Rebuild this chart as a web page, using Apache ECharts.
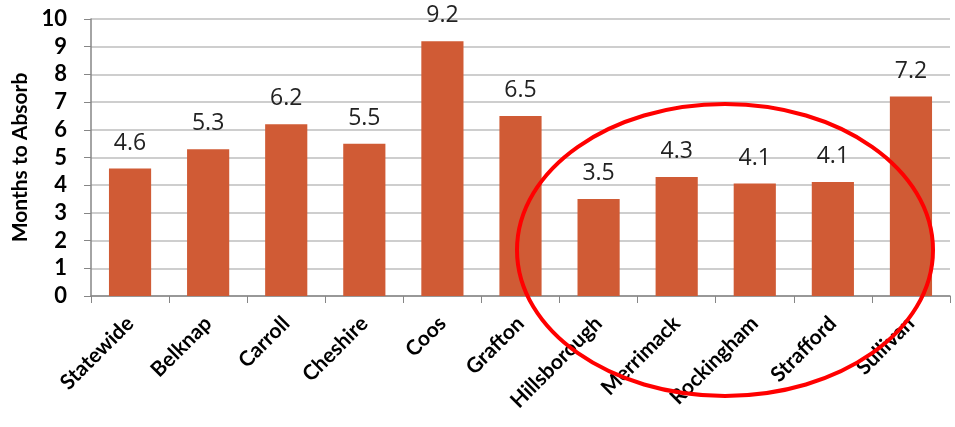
<!DOCTYPE html>
<html>
<head>
<meta charset="utf-8">
<script src="https://cdn.jsdelivr.net/npm/echarts@6/dist/echarts.min.js"></script>
<style>
  html, body { margin: 0; padding: 0; background: #fff; }
  #main { width: 955px; height: 427px; }
</style>
</head>
<body>
<div id="main"></div>
<script>
var counties = ['Statewide', 'Belknap', 'Carroll', 'Cheshire', 'Coos', 'Grafton',
    'Hillsborough', 'Merrimack', 'Rockingham', 'Strafford', 'Sullivan'];
var months = [4.6, 5.3, 6.2, 5.5, 9.2, 6.5, 3.5, 4.3, 4.06, 4.12, 7.2];
var yTicks = [0, 1, 2, 3, 4, 5, 6, 7, 8, 9, 10];

var chartDom = document.getElementById('main');
var myChart = echarts.init(chartDom);
var option;

option = {
    animation: false,
    grid: {
        left: 91,
        right: 5,
        top: 19,
        bottom: 131
    },
    xAxis: {
        type: 'category',
        data: counties,
        axisLine: { lineStyle: { color: '#868686', width: 1.5 } },
        axisTick: { show: true, length: 7, lineStyle: { color: '#868686' } },
        axisLabel: {
            rotate: 45,
            interval: 0,
            margin: 24,
            fontFamily: 'Lato',
            fontWeight: 'bold',
            fontSize: 21,
            color: '#000'
        }
    },
    yAxis: {
        type: 'value',
        min: yTicks[0],
        max: yTicks[yTicks.length - 1],
        interval: 1,
        name: 'Months to Absorb',
        nameLocation: 'middle',
        nameGap: 60,
        nameTextStyle: {
            fontFamily: 'Lato',
            fontWeight: 'bold',
            fontSize: 21,
            color: '#000'
        },
        axisLine: { show: true, lineStyle: { color: '#868686', width: 1.5 } },
        axisTick: { show: true, length: 7, lineStyle: { color: '#868686' } },
        axisLabel: {
            margin: 24,
            fontFamily: 'Lato',
            fontWeight: 'bold',
            fontSize: 22,
            color: '#000'
        },
        splitLine: { lineStyle: { color: '#BEBEBE', width: 1.5 } }
    },
    series: [
        {
            name: 'Months to Absorb',
            type: 'bar',
            data: months,
            barWidth: '54%',
            itemStyle: { color: '#D05B35' },
            label: {
                show: true,
                position: 'top',
                distance: 14,
                fontFamily: 'Open Sans',
                fontSize: 23,
                color: '#222',
                formatter: function (p) {
                    return p.value.toFixed(1);
                }
            }
        }
    ],
    graphic: [
        {
            type: 'ellipse',
            shape: { cx: 725, cy: 250, rx: 208, ry: 146 },
            style: { fill: 'none', stroke: '#FF0000', lineWidth: 4 },
            z: 100
        }
    ]
};

option && myChart.setOption(option);
</script>
</body>
</html>
